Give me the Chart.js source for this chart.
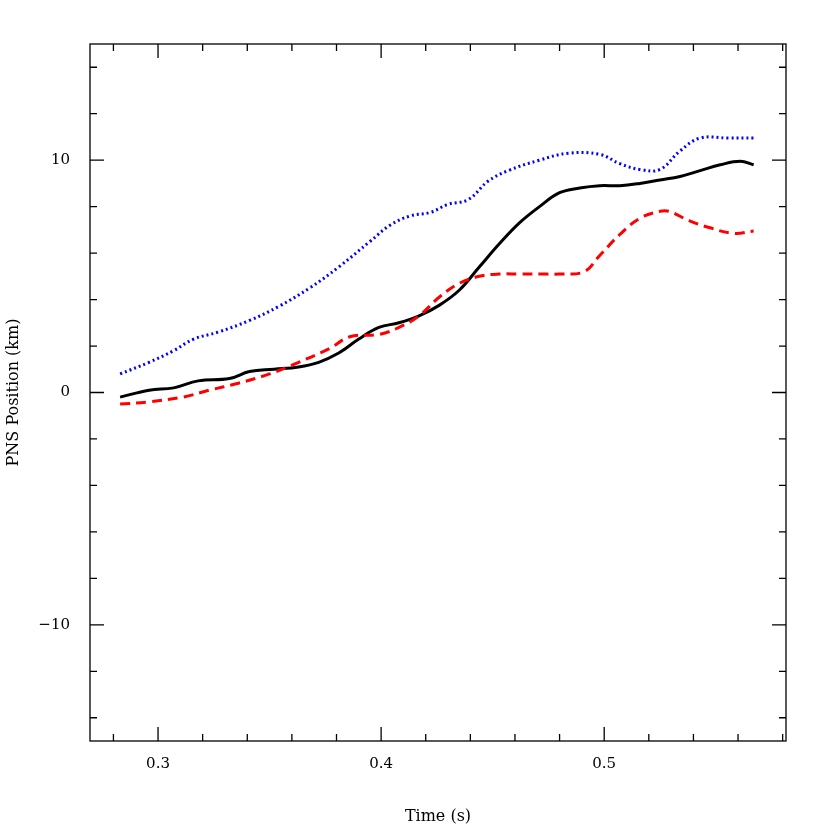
<!DOCTYPE html><html><head><script src="https://cdn.jsdelivr.net/npm/chart.js@4"></script>
<style>html,body{margin:0;background:#fff}#w{width:830px;height:830px}</style></head><body><div id="w"><canvas id="c"></canvas></div>
<script>
const blackT=[.283,.296,.307,.318,.332,.341,.352,.363,.372,.381,.390,.399,.408,.417,.426,.435,.444,.453,.462,.471,.480,.489,.498,.507,.516,.525,.534,.543,.552,.561,.567];
const blackY=[-0.2,.1,.2,.5,.6,.9,1.0,1.1,1.3,1.7,2.3,2.8,3.0,3.3,3.75,4.4,5.4,6.4,7.3,8.0,8.6,8.8,8.9,8.9,9.0,9.15,9.3,9.55,9.8,9.95,9.8];
const redT=[.283,.296,.311,.323,.336,.35,.363,.377,.386,.399,.408,.417,.426,.435,.444,.453,.462,.471,.480,.491,.498,.507,.516,.525,.529,.538,.547,.558,.567];
const redY=[-0.5,-0.4,-0.2,.1,.4,.8,1.3,1.9,2.4,2.5,2.8,3.3,4.1,4.7,5.0,5.1,5.1,5.1,5.1,5.2,5.9,6.8,7.5,7.8,7.8,7.4,7.1,6.85,6.95];
const blueT=[.283,.296,.307,.316,.327,.341,.354,.368,.381,.395,.404,.413,.422,.430,.439,.448,.457,.471,.484,.498,.507,.516,.525,.534,.543,.556,.567];
const blueY=[.8,1.3,1.8,2.3,2.6,3.1,3.7,4.5,5.4,6.5,7.2,7.6,7.75,8.1,8.3,9.1,9.55,10.0,10.3,10.25,9.85,9.6,9.6,10.4,10.95,10.95,10.95];
const xTicks=[0.3,0.4,0.5], yTicks=[-10,0,10];
const pts=(t,y)=>t.map((v,i)=>({x:v,y:y[i]}));
const F="'DejaVu Serif', serif";
const frame={id:'frame',afterDraw(ch){const c=ch.ctx,a=ch.chartArea,x=ch.scales.x,y=ch.scales.y;c.save();c.strokeStyle='#000';c.lineWidth=1.3;c.strokeRect(a.left,a.top,a.right-a.left,a.bottom-a.top);
c.beginPath();
for(let v=0.28;v<=0.581;v+=0.02){const p=x.getPixelForValue(v);const maj=Math.abs(v*10-Math.round(v*10))<1e-6;const L=maj?14:7;c.moveTo(p,a.bottom);c.lineTo(p,a.bottom-L);c.moveTo(p,a.top);c.lineTo(p,a.top+L);}
for(let v=-14;v<=14;v+=2){const p=y.getPixelForValue(v);const L=(v%10===0)?14:7;c.moveTo(a.left,p);c.lineTo(a.left+L,p);c.moveTo(a.right,p);c.lineTo(a.right-L,p);}
c.stroke();c.restore();}};
new Chart(document.getElementById('c'),{type:'scatter',data:{datasets:[
{data:pts(blueT,blueY),showLine:true,borderColor:'#0000ff',borderWidth:3,borderDash:[2,3],pointRadius:0,tension:0.4},
{data:pts(redT,redY),showLine:true,borderColor:'#ff0000',borderWidth:3,borderDash:[10,6],pointRadius:0,tension:0.4},
{data:pts(blackT,blackY),showLine:true,borderColor:'#000',borderWidth:3,pointRadius:0,tension:0.4}]},
options:{responsive:true,maintainAspectRatio:false,animation:false,layout:{padding:{top:44,right:44,left:0,bottom:0}},
plugins:{legend:{display:false},tooltip:{enabled:false}},
scales:{x:{type:'linear',min:0.2695,max:0.5815,grid:{display:false},border:{display:false},
afterBuildTicks(s){s.ticks=xTicks.map(v=>({value:v}));},afterFit(s){s.height=89;},
ticks:{color:'#000',font:{family:F,size:15},padding:6,callback:v=>v.toFixed(1)},
title:{display:true,text:'Time (s)',color:'#000',font:{family:F,size:16},padding:{top:2}}},
y:{type:'linear',min:-15,max:15,grid:{display:false},border:{display:false},
afterBuildTicks(s){s.ticks=yTicks.map(v=>({value:v}));},afterFit(s){s.width=90;},
ticks:{color:'#000',font:{family:F,size:15},padding:12,callback:v=>v<0?'\u2212'+Math.abs(v):String(v)},
title:{display:true,text:'PNS Position (km)',color:'#000',font:{family:F,size:16},padding:{bottom:8}}}}},
plugins:[frame]});
</script></body></html>
